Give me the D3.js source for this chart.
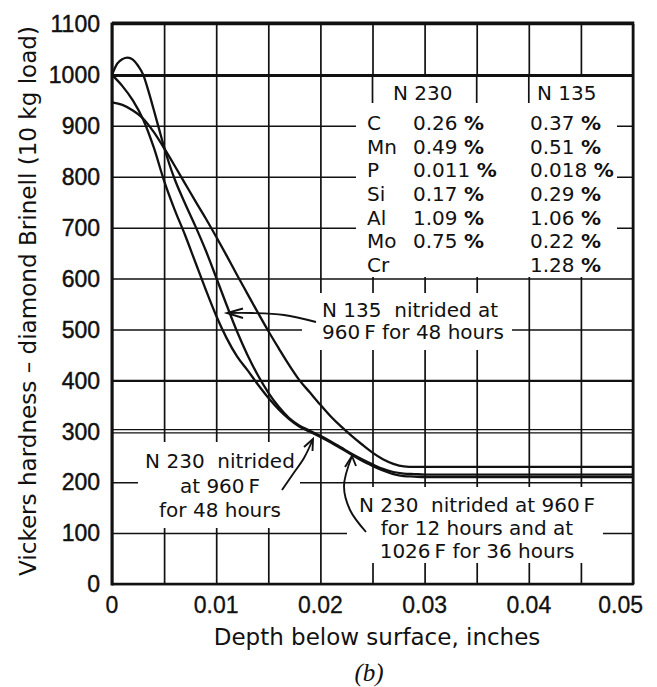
<!DOCTYPE html>
<html><head><meta charset="utf-8">
<script src="https://cdn.jsdelivr.net/npm/d3@7/dist/d3.min.js"></script>
<style>body{margin:0;background:#fff}svg{display:block}text{white-space:pre}</style>
</head><body>
<svg id="c" width="657" height="687"></svg>
<script>
// ---------------- data ----------------
const depthHump = [0,0.0005,0.001,0.0015,0.002,0.0025,0.003,0.0035,0.004,0.0045,0.005,0.0055,0.006,0.007,0.008,0.009,0.010,0.011,0.012,0.013,0.014,0.015,0.016,0.017,0.018,0.019,0.020,0.021,0.022,0.023,0.024,0.025,0.026,0.027,0.028,0.029,0.030,0.040,0.050];
const hardHump  = [1000,1022,1031,1034,1030,1018,1000,968,932,895,858,825,796,748,703,655,602,548,496,450,410,376,348,326,311,301,291,280,268,256,245,235,226,220,217,216,215,215,215];

const depthStd = [0,0.001,0.002,0.003,0.004,0.005,0.006,0.007,0.008,0.009,0.010,0.011,0.012,0.013,0.014,0.015,0.016,0.017,0.018,0.019,0.020,0.021,0.022,0.023,0.024,0.025,0.026,0.027,0.028,0.029,0.030,0.040,0.050];
const hardStd   = [1000,978,950,912,858,792,736,686,632,578,527,483,447,420,392,366,343,324,309,299,289,278,266,254,242,232,223,216,212,211,210,210,210];

const depthLow  = [0,0.001,0.002,0.003,0.004,0.005,0.006,0.007,0.008,0.009,0.010,0.011,0.012,0.013,0.014,0.015,0.016,0.017,0.018,0.019,0.020,0.021,0.022,0.023,0.024,0.025,0.026,0.027,0.028,0.029,0.030,0.040,0.050];
const hardLow   = [946,941,930,914,888,856,822,787,752,718,682,645,607,570,533,497,463,430,400,376,352,329,309,291,274,258,245,236,231,230,230,230,230];

const xTickValues = [0,0.01,0.02,0.03,0.04,0.05];
const xTickLabels = ["0","0.01","0.02","0.03","0.04","0.05"];
const yTickValues = [0,100,200,300,400,500,600,700,800,900,1000,1100];
const yTickLabels = ["0","100","200","300","400","500","600","700","800","900","1000","1100"];

const steels   = ["N 230","N 135"];
const elements = ["C","Mn","P","Si","Al","Mo","Cr"];
const pctN230  = ["0.26","0.49","0.011","0.17","1.09","0.75",""];
const pctN135  = ["0.37","0.51","0.018","0.29","1.06","0.22","1.28"];

const yTitle = "Vickers hardness \u2013 diamond Brinell (10 kg load)";
const xTitle = "Depth below surface, inches";
const caption = "(b)";
const noteN135 = ["N 135  nitrided at","960\u2009F for 48 hours"];
const noteN230a = ["N 230  nitrided","at 960\u2009F","for 48 hours"];
const noteN230b = ["N 230  nitrided at 960\u2009F","for 12 hours and at","1026\u2009F for 36 hours"];

// ---------------- layout ----------------
const X0 = 112, X1 = 633, Y0 = 584, Y1 = 24;
const x = d3.scaleLinear().domain([0,0.05]).range([X0,X1]);
const y = d3.scaleLinear().domain([0,1100]).range([Y0,Y1]);
const ink = "#111";
const svg = d3.select("#c");
const sans = "'DejaVu Sans', sans-serif";
const numFont = "'Liberation Sans', Arial, sans-serif";

// vertical grid
const xGrid = d3.range(0, 11).map(i => i*0.005);
svg.append("g").attr("transform",`translate(0,${Y0})`)
  .call(d3.axisBottom(x).tickValues(xGrid).tickSize(-(Y0-Y1)).tickFormat(""))
  .call(g => g.select(".domain").remove())
  .selectAll("line").attr("stroke",ink).attr("stroke-width",1.7);

// horizontal grid
const hg = svg.append("g").attr("transform",`translate(${X0},0)`)
  .call(d3.axisLeft(y).tickValues(yTickValues).tickSize(-(X1-X0)).tickFormat(""))
  .call(g => g.select(".domain").remove());
hg.selectAll(".tick line").attr("stroke",ink)
  .attr("stroke-width", d => d===1000 ? 3 : d===400 ? 2.2 : 1.5)
  .attr("stroke-opacity", d => d===300 ? 0 : 1);
[-1.6,1.6].forEach(o => svg.append("line")
  .attr("x1",X0).attr("x2",X1).attr("y1",y(300)+o).attr("y2",y(300)+o)
  .attr("stroke",ink).attr("stroke-width",1.3));

// white boxes behind texts
const boxes = [
  [356,77,617,277],   // composition table
  [302,293,512,350],  // N135 note
  [138,442,300,528],  // N230 48h note
  [347,487,603,563]   // N230 two-stage note
];
svg.append("g").selectAll("rect").data(boxes).join("rect")
  .attr("x",d=>d[0]).attr("y",d=>d[1]).attr("width",d=>d[2]-d[0]).attr("height",d=>d[3]-d[1])
  .attr("fill","#fff");
// header separators of the table
[0.025,0.035,0.04].forEach(v => svg.append("line")
  .attr("x1",x(v)).attr("x2",x(v)).attr("y1",y(1000)).attr("y2",103)
  .attr("stroke",ink).attr("stroke-width",1.7));

// frame
svg.append("line").attr("x1",X0).attr("x2",X0).attr("y1",Y1-1.5).attr("y2",Y0+1.5).attr("stroke",ink).attr("stroke-width",3);
svg.append("line").attr("x1",X0).attr("x2",X1+1.2).attr("y1",Y0).attr("y2",Y0).attr("stroke",ink).attr("stroke-width",2.6);
svg.append("line").attr("x1",X1).attr("x2",X1).attr("y1",Y1).attr("y2",Y0).attr("stroke",ink).attr("stroke-width",2.6);
svg.append("line").attr("x1",X0).attr("x2",X1+1.3).attr("y1",Y1-1).attr("y2",Y1-1).attr("stroke",ink).attr("stroke-width",3);

// curves
const line = d3.line().x(d=>x(d[0])).y(d=>y(d[1])).curve(d3.curveMonotoneX);
const series = [
  d3.zip(depthHump, hardHump),
  d3.zip(depthStd, hardStd),
  d3.zip(depthLow, hardLow)
];
svg.append("g").selectAll("path").data(series).join("path")
  .attr("d", line).attr("fill","none").attr("stroke",ink).attr("stroke-width",2.3)
  .attr("stroke-linejoin","round");

// tick labels
svg.append("g").selectAll("text").data(yTickValues).join("text")
  .attr("x",100).attr("y",d=>y(d)).attr("dy","0.36em").attr("text-anchor","end")
  .attr("font-family",numFont).attr("font-size",23).attr("fill",ink)
  .attr("stroke",ink).attr("stroke-width",0.45)
  .text((d,i)=>yTickLabels[i]);
svg.append("g").selectAll("text").data(xTickValues).join("text")
  .attr("x",(d,i)=> i===xTickValues.length-1 ? 643 : x(d)).attr("y",613)
  .attr("text-anchor",(d,i)=> i===xTickValues.length-1 ? "end" : "middle")
  .attr("font-family",numFont).attr("font-size",23).attr("fill",ink)
  .attr("stroke",ink).attr("stroke-width",0.3)
  .text((d,i)=>xTickLabels[i]);

// axis titles
svg.append("text").attr("transform","translate(36,301) rotate(-90)")
  .attr("text-anchor","middle").attr("font-family",sans).attr("font-size",22.5).attr("fill",ink)
  .attr("textLength",550).attr("lengthAdjust","spacingAndGlyphs").text(yTitle);
svg.append("text").attr("x",377).attr("y",645).attr("text-anchor","middle")
  .attr("font-family",sans).attr("font-size",23).attr("fill",ink).text(xTitle);
svg.append("text").attr("x",369).attr("y",681).attr("text-anchor","middle")
  .attr("font-family","'Liberation Serif', serif").attr("font-style","italic")
  .attr("font-size",25).attr("fill",ink).text(caption);

// composition table
const tFont = 20;
const rowY = d3.scalePoint().domain(elements).range([130,272]);
svg.append("text").attr("x",393).attr("y",100).attr("font-family",sans).attr("font-size",tFont).attr("fill",ink).text(steels[0]);
svg.append("text").attr("x",537).attr("y",100).attr("font-family",sans).attr("font-size",tFont).attr("fill",ink).text(steels[1]);
const rows = svg.append("g").selectAll("g").data(elements).join("g");
rows.append("text").attr("x",367).attr("y",d=>rowY(d)).attr("font-family",sans).attr("font-size",tFont).attr("fill",ink).text(d=>d);
function pct(sel, vals, x0){
  sel.append("text").attr("x",x0).attr("y",d=>rowY(d)).attr("font-family",sans).attr("font-size",tFont).attr("fill",ink)
    .each(function(d,i){
      const v = vals[i]; if(!v) return;
      const t = d3.select(this);
      t.append("tspan").text(v + " ");
      t.append("tspan").attr("font-weight","bold").text("%");
    });
}
pct(rows, pctN230, 413);
pct(rows, pctN135, 530);

// notes
function note(lines, x0, y0, dy, anchor){
  const t = svg.append("text").attr("font-family",sans).attr("font-size",20).attr("fill",ink).attr("text-anchor",anchor);
  lines.forEach((s,i)=> t.append("tspan").attr("x",x0).attr("y",y0+i*dy).text(s));
}
note(noteN135, 322, 317, 22, "start");
note(noteN230a, 220, 468, 24.5, "middle");
note(noteN230b, 477, 512, 23, "middle");

// arrows
const arr = d3.line().curve(d3.curveCatmullRom);
function arrow(pts, h1, h2){
  svg.append("path").attr("d",arr(pts)).attr("fill","none").attr("stroke",ink).attr("stroke-width",1.9);
  const tip = pts[pts.length-1];
  svg.append("path").attr("d",d3.line()([h1,tip,h2])).attr("fill","none").attr("stroke",ink).attr("stroke-width",1.9).attr("stroke-linejoin","miter");
}
arrow([[316,322],[284,315],[252,313],[227,313]],[243,308.5],[243,318]);
arrow([[282,490],[293,474],[304,458],[313,439]],[304,447],[312.5,451]);
arrow([[366,532],[350,510],[344,486],[352,456]],[345,467],[356,466]);
</script>
</body></html>
